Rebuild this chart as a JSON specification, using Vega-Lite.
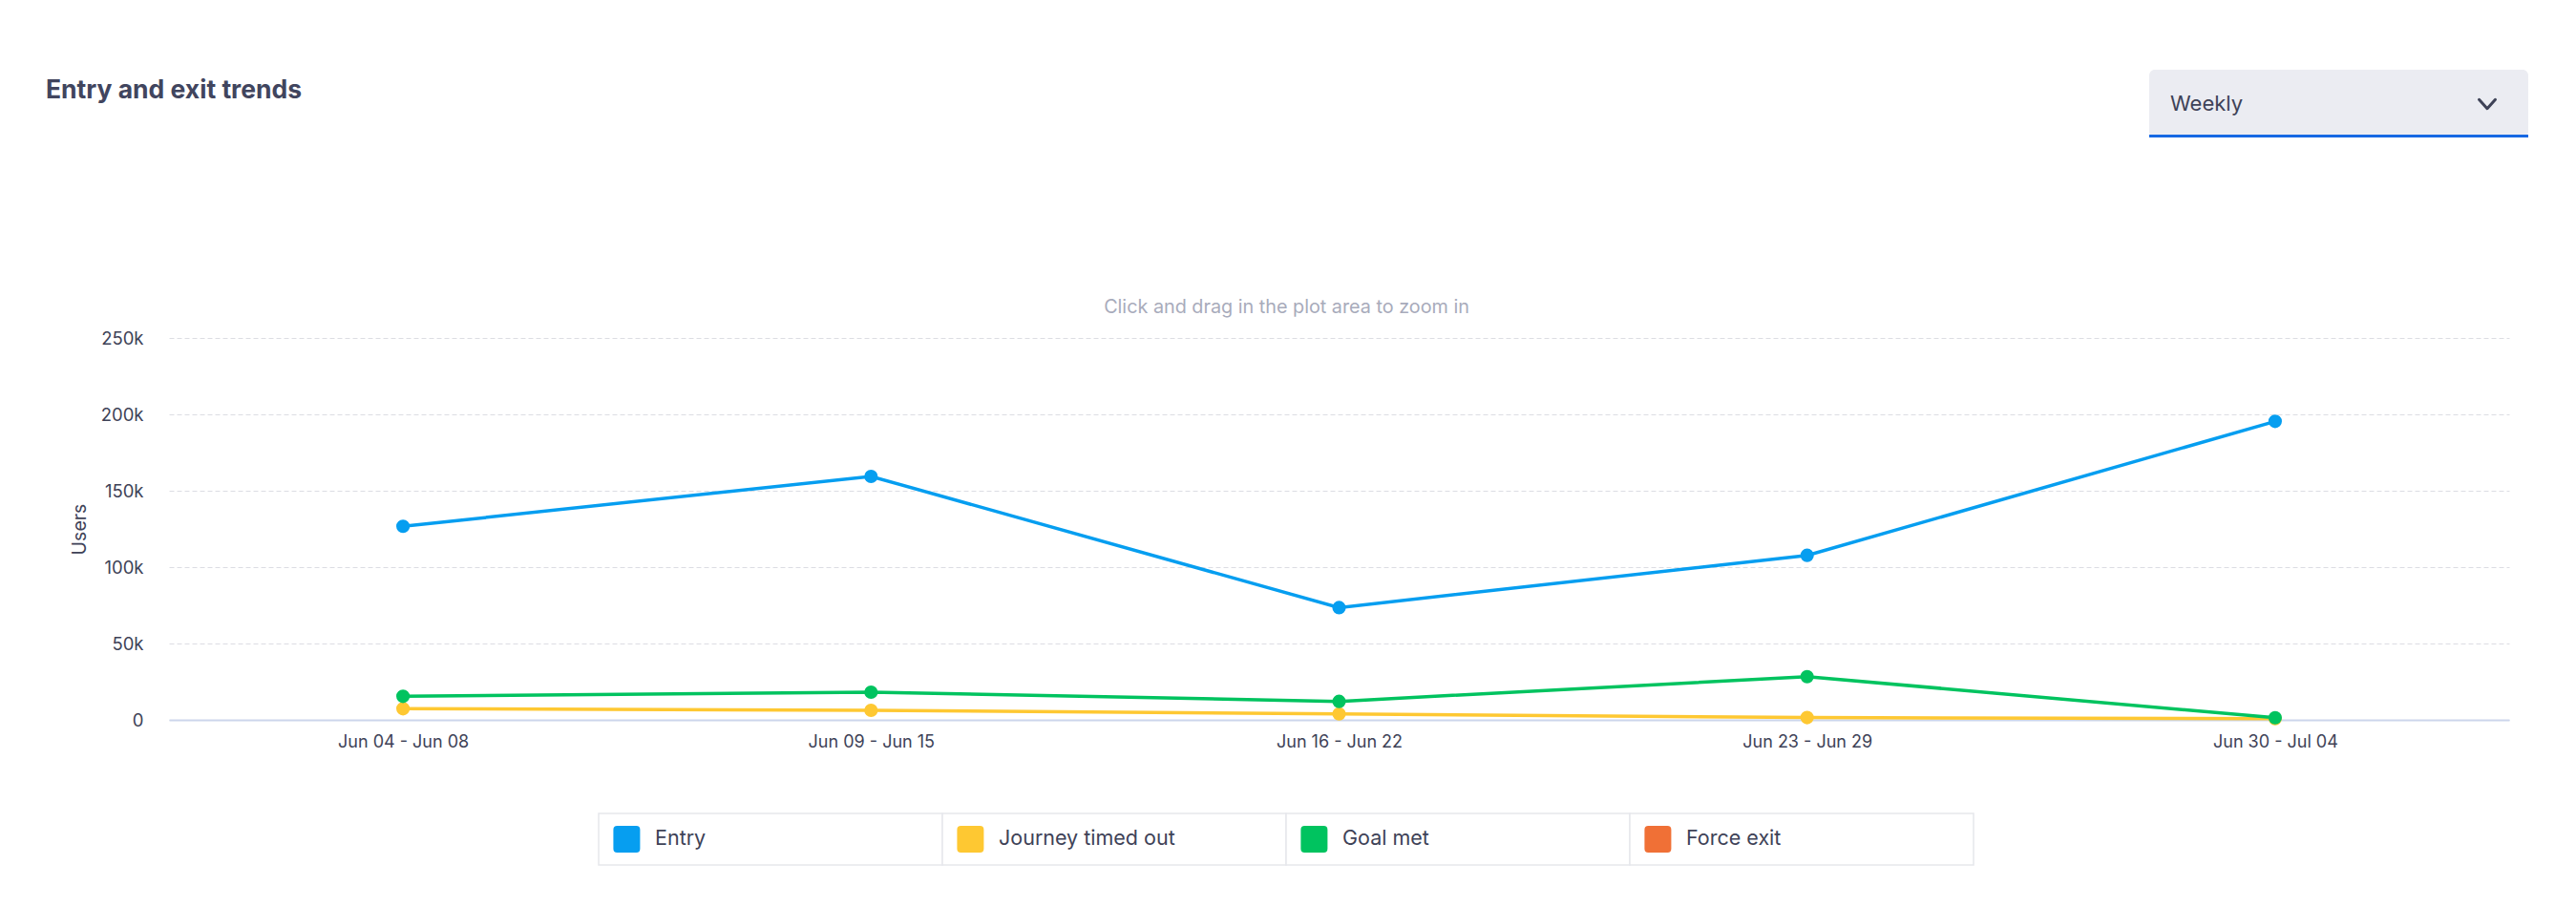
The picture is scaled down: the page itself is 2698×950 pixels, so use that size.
{
  "$schema": "https://vega.github.io/schema/vega-lite/v6.json",
  "background": "white",
  "padding": {"left": 48, "top": 73, "right": 10, "bottom": 10},
  "config": {
    "font": "Inter",
    "view": {"stroke": null}
  },
  "datasets": {
    "trend": [
      {"week": "Jun 04 - Jun 08", "series": "Entry", "users": 126700},
      {"week": "Jun 09 - Jun 15", "series": "Entry", "users": 159400},
      {"week": "Jun 16 - Jun 22", "series": "Entry", "users": 73500},
      {"week": "Jun 23 - Jun 29", "series": "Entry", "users": 107700},
      {"week": "Jun 30 - Jul 04", "series": "Entry", "users": 195400},
      {"week": "Jun 04 - Jun 08", "series": "Journey timed out", "users": 7300},
      {"week": "Jun 09 - Jun 15", "series": "Journey timed out", "users": 6250},
      {"week": "Jun 16 - Jun 22", "series": "Journey timed out", "users": 3900},
      {"week": "Jun 23 - Jun 29", "series": "Journey timed out", "users": 1500},
      {"week": "Jun 30 - Jul 04", "series": "Journey timed out", "users": 800},
      {"week": "Jun 04 - Jun 08", "series": "Goal met", "users": 15400},
      {"week": "Jun 09 - Jun 15", "series": "Goal met", "users": 18100},
      {"week": "Jun 16 - Jun 22", "series": "Goal met", "users": 12100},
      {"week": "Jun 23 - Jun 29", "series": "Goal met", "users": 28300},
      {"week": "Jun 30 - Jul 04", "series": "Goal met", "users": 1400}
    ],
    "legend": [
      {"series": "Entry"},
      {"series": "Journey timed out"},
      {"series": "Goal met"},
      {"series": "Force exit"}
    ]
  },
  "resolve": {"scale": {"x": "independent", "y": "independent"}},
  "spacing": 168,
  "vconcat": [
    {
      "spacing": 0,
      "hconcat": [
        {
          "width": 2072,
          "height": 71,
          "data": {"values": [{"t": "Entry and exit trends"}]},
          "mark": {"type": "text", "align": "left", "baseline": "alphabetic", "dx": -129, "fontWeight": "bold", "fontSize": 26.5, "color": "#41455e"},
          "encoding": {"x": {"value": 0}, "y": {"value": 30}, "text": {"field": "t"}}
        },
        {
          "width": 397,
          "height": 71,
          "view": {"fill": "#ebecf2", "cornerRadius": 6, "stroke": null},
          "data": {"values": [{"period": "Weekly"}]},
          "layer": [
            {
              "mark": {"type": "text", "align": "left", "baseline": "middle", "fontSize": 22, "color": "#3e4257"},
              "encoding": {"x": {"value": 22}, "y": {"value": 36}, "text": {"field": "period"}}
            },
            {
              "mark": {"type": "point", "shape": "M-1,-0.55L0,0.55L1,-0.55", "filled": false, "color": "#3e4257", "strokeWidth": 3, "size": 289, "opacity": 1, "strokeCap": "round", "strokeJoin": "round"},
              "encoding": {"x": {"value": 354}, "y": {"value": 36}}
            },
            {
              "mark": {"type": "rule", "color": "#1668e3", "strokeWidth": 3},
              "encoding": {"x": {"value": 0}, "x2": {"value": "width"}, "y": {"value": 69.5}}
            }
          ]
        }
      ]
    },
    {
      "spacing": 65,
      "resolve": {"scale": {"x": "independent", "y": "independent"}},
      "vconcat": [
        {
          "width": 2451,
          "height": 400,
          "title": {"text": "Click and drag in the plot area to zoom in", "fontSize": 19.8, "fontWeight": "normal", "color": "#a8abbb", "anchor": "middle", "dx": -55, "offset": 13},
          "data": {"name": "trend"},
          "encoding": {
            "x": {
              "field": "week", "type": "ordinal", "sort": null,
              "scale": {"type": "point", "padding": 0.5},
              "axis": {"title": null, "labelAngle": 0, "labelFontSize": 18, "labelColor": "#3e4257", "labelPadding": 14, "ticks": false, "domain": true, "domainColor": "#ccd6eb", "domainWidth": 2, "grid": false}
            },
            "y": {
              "field": "users", "type": "quantitative",
              "scale": {"domain": [0, 250000], "nice": false},
              "axis": {"title": "Users", "values": [0, 50000, 100000, 150000, 200000, 250000], "labelExpr": "datum.value === 0 ? '0' : format(datum.value / 1000, 'd') + 'k'", "labelFontSize": 18.5, "labelColor": "#3e4257", "labelPadding": 27, "ticks": false, "domain": false, "grid": true, "gridDash": [5, 3], "gridColor": "#dcdde3", "gridWidth": 1, "titleFontSize": 19.5, "titleFontWeight": "normal", "titleColor": "#3e4257", "titlePadding": 12}
            },
            "color": {
              "field": "series", "type": "nominal",
              "scale": {"domain": ["Entry", "Journey timed out", "Goal met", "Force exit"], "range": ["#069ef0", "#fec832", "#00c35f", "#f07036"]},
              "legend": null
            }
          },
          "layer": [
            {"mark": {"type": "line", "strokeWidth": 3.5}},
            {"mark": {"type": "point", "filled": true, "size": 200, "opacity": 1}}
          ]
        },
        {
          "width": 1890,
          "height": 54,
          "data": {"name": "legend"},
          "encoding": {
            "x": {"field": "series", "type": "nominal", "sort": null, "scale": {"type": "band", "paddingInner": 0, "paddingOuter": 0.625, "align": 1}, "axis": null}
          },
          "layer": [
            {
              "mark": {"type": "rect", "fill": "white", "stroke": "#e6e7ec", "strokeWidth": 1.5},
              "encoding": {"y": {"value": 0}, "y2": {"value": "height"}}
            },
            {
              "mark": {"type": "point", "shape": "M-0.72,-1L0.72,-1Q1,-1 1,-0.72L1,0.72Q1,1 0.72,1L-0.72,1Q-1,1 -1,0.72L-1,-0.72Q-1,-1 -0.72,-1Z", "filled": true, "size": 784, "opacity": 1, "xOffset": -150.6},
              "encoding": {
                "color": {"field": "series", "type": "nominal", "scale": {"domain": ["Entry", "Journey timed out", "Goal met", "Force exit"], "range": ["#069ef0", "#fec832", "#00c35f", "#f07036"]}, "legend": null}
              }
            },
            {
              "mark": {"type": "text", "align": "left", "baseline": "middle", "fontSize": 21.5, "color": "#3e4257", "dx": -121},
              "encoding": {"text": {"field": "series"}}
            }
          ]
        }
      ]
    }
  ]
}
